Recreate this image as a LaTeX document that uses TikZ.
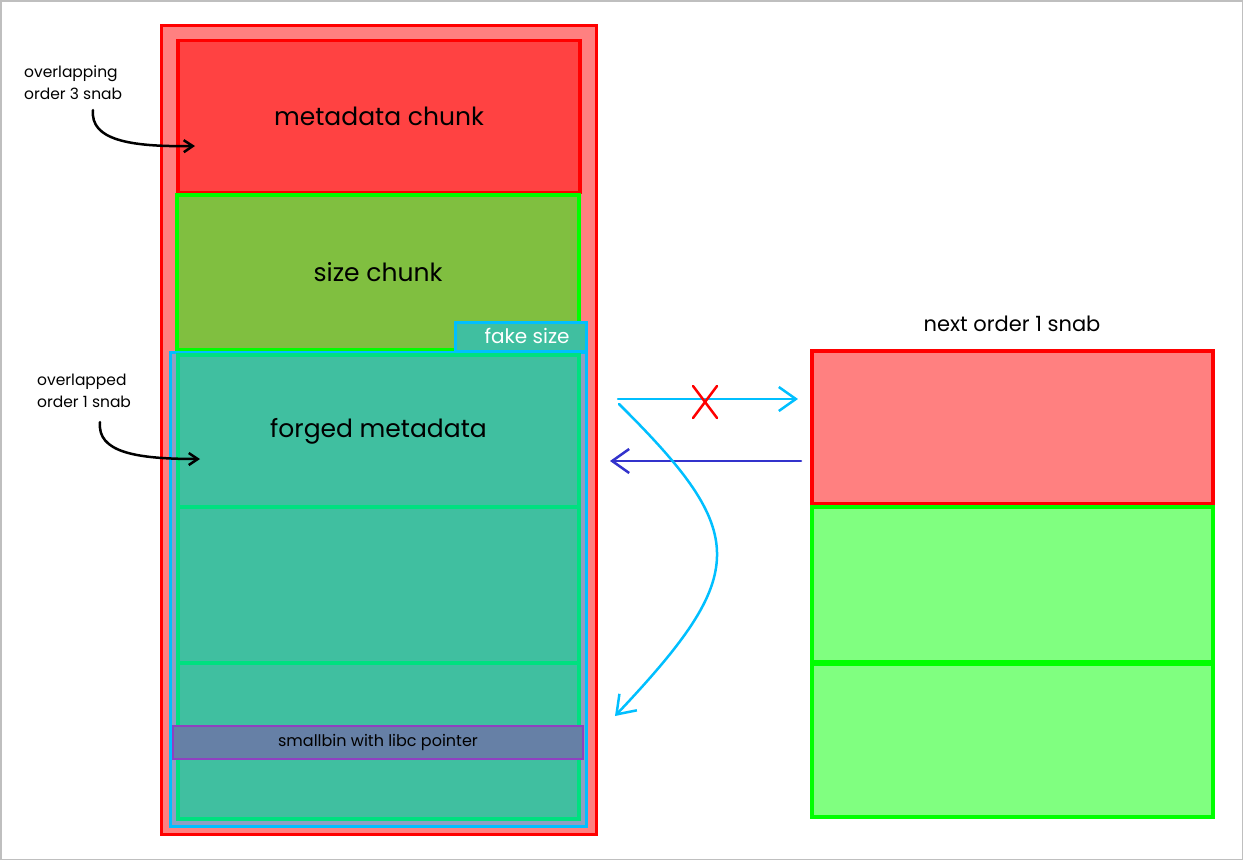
\documentclass[tikz,border=0pt]{standalone}
\usepackage{fontspec}
\setmainfont{Poppins}
\usetikzlibrary{arrows.meta}
\definecolor{pinkc}{HTML}{FF8080}
\definecolor{redc}{HTML}{FF0000}
\definecolor{metac}{HTML}{FF4242}
\definecolor{olivec}{HTML}{80BF40}
\definecolor{greenc}{HTML}{00FF00}
\definecolor{tealc}{HTML}{40BFA0}
\definecolor{tealline}{HTML}{00E080}
\definecolor{cyanc}{HTML}{00BFFF}
\definecolor{bluegray}{HTML}{8E9FC2}
\definecolor{slatec}{HTML}{6680A6}
\definecolor{purplec}{HTML}{9040C0}
\definecolor{lgreenc}{HTML}{80FF80}
\definecolor{dbluec}{HTML}{3333CC}
\tikzset{
  chunk/.style={draw, rectangle, inner sep=0pt, outer sep=0pt, line width=3.5pt, font=\fontsize{25}{30}\selectfont},
  tealchunk/.style={chunk, fill=tealc, draw=tealline, line width=4pt},
  tealedge/.style={tealline, line width=4pt},
  smalltxt/.style={font=\fontsize{15.5}{22}\selectfont, align=left, inner sep=0pt},
  blackarrow/.style={line width=2.5pt, line cap=round, -{Straight Barb[length=9pt,width=12pt]}},
  cyanarrow/.style={cyanc, line width=2.5pt, line cap=round, -{Straight Barb[length=17pt,width=24pt]}},
}
\begin{document}
\begin{tikzpicture}[x=1pt,y=-1pt]
\useasboundingbox (0,0) rectangle (1243,860);
\draw[gray!50, line width=1.5pt] (0.75,0.75) rectangle (1242.25,859.25);

% left column
\node[chunk, fill=pinkc, draw=redc, line width=3pt, minimum width=435pt, minimum height=809pt] (outer) at (378.5,429.5) {};
\node[chunk, fill=metac, draw=redc, minimum width=402pt, minimum height=152pt] (meta) at (379,116.5) {metadata chunk};
\node[chunk, fill=olivec, draw=greenc, minimum width=402pt, minimum height=155pt] (size) at (378,272.5) {size chunk};
\node[chunk, fill=tealc, draw=cyanc, line width=3pt, minimum width=131pt, minimum height=29pt] (fake) at (520.5,336.5) {};
\node[font=\fontsize{20}{24}\selectfont, text=white, inner sep=0pt] (fakeText) at (527,336) {fake size};
\node[chunk, fill=bluegray, draw=cyanc, line width=3pt, minimum width=416pt, minimum height=474pt] (blue) at (378,589) {};
\node[tealchunk, minimum width=401pt, minimum height=152pt] (forged) at (378.5,431) {forged metadata};
\node[tealchunk, minimum width=401pt, minimum height=156pt] (g2) at (378.5,585) {};
\node[tealchunk, minimum width=401pt, minimum height=156pt] (g3) at (378.5,741) {};
\draw[tealedge] (forged.north west) rectangle (forged.south east);
\draw[tealedge] (g2.north west) rectangle (g2.south east);
\node[chunk, fill=slatec, draw=purplec, line width=1.5pt, minimum width=410pt, minimum height=33pt, font=\fontsize{16}{18}\selectfont] (smallbin) at (378,742.5) {smallbin with libc pointer};

% right column
\node[font=\fontsize{21}{25}\selectfont, inner sep=0pt] (title) at (1012,324) {next order 1 snab};
\node[chunk, fill=pinkc, draw=redc, minimum width=401pt, minimum height=153pt] (nred) at (1012.5,427.5) {};
\node[chunk, fill=lgreenc, draw=greenc, line width=4pt, minimum width=401pt, minimum height=155pt] (ng1) at (1012.5,584.5) {};
\node[chunk, fill=lgreenc, draw=greenc, line width=4pt, minimum width=401pt, minimum height=153pt] (ng2) at (1012.5,740.5) {};
\draw[greenc, line width=4pt] (ng1.north west) rectangle (ng1.south east);

% left labels
\node[smalltxt, anchor=west] (lbl3) at (24,83) {overlapping\\order 3 snab};
\node[smalltxt, anchor=west] (lbl1) at (37,391) {overlapped\\order 1 snab};
\coordinate (a3s) at (93,110);
\coordinate (a3e) at (195,146);
\coordinate (a1s) at (100,422);
\coordinate (a1e) at (200,459);
\draw[blackarrow] (a3s) .. controls (90,140) and (130,147) .. (a3e);
\draw[blackarrow] (a1s) .. controls (97,452) and (135,459) .. (a1e);

% arrows between columns
\coordinate (c1) at (618,399);
\coordinate (c2) at (798,399);
\coordinate (d1) at (801,461);
\coordinate (d2) at (610,461);
\coordinate (e1) at (619,404);
\coordinate (e2) at (615,716);
\coordinate (xm) at (705,402);
\draw[cyanarrow] (c1) -- (c2);
\draw[dbluec, line width=2.5pt, line cap=round, -{Straight Barb[length=17pt,width=24pt]}] (d1) -- (d2);
\draw[cyanarrow] (e1) .. controls (750,534) and (750,573) .. (e2);
\draw[redc, line width=2.5pt, line cap=round] ([shift={(-12,-16)}]xm) -- ([shift={(12,16)}]xm);
\draw[redc, line width=2.5pt, line cap=round] ([shift={(12,-16)}]xm) -- ([shift={(-12,16)}]xm);
\end{tikzpicture}
\end{document}
